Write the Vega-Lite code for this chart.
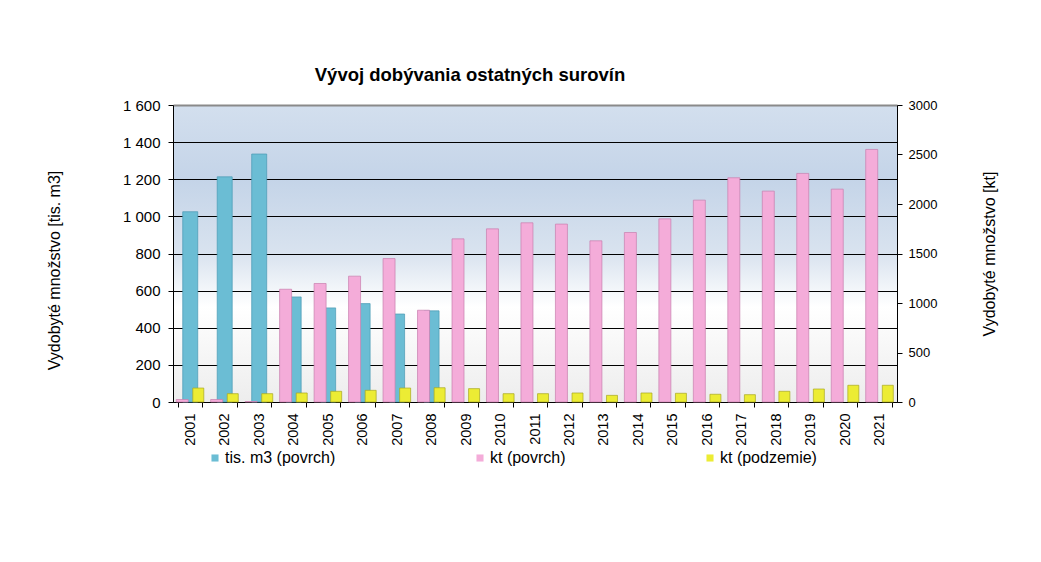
{
  "$schema": "https://vega.github.io/schema/vega-lite/v6.json",
  "width": 724,
  "height": 297,
  "autosize": "none",
  "padding": {"left": 173, "top": 105, "right": 144, "bottom": 160},
  "background": "white",
  "title": {
    "text": "Vývoj dobývania ostatných surovín",
    "font": "Liberation Sans",
    "fontSize": 18.5,
    "fontWeight": "bold",
    "color": "#000000",
    "anchor": "middle",
    "dx": -65,
    "offset": 14
  },
  "config": {
    "locale": {"number": {"decimal": ",", "thousands": " ", "grouping": [3], "currency": ["", ""]}},
    "font": "Liberation Sans",
    "view": {
      "stroke": null,
      "fill": {
        "gradient": "linear",
        "x1": 0, "y1": 0, "x2": 0, "y2": 1,
        "stops": [
          {"offset": 0, "color": "#d3dfee"},
          {"offset": 0.25, "color": "#c4d4e8"},
          {"offset": 0.5, "color": "#d9e3ef"},
          {"offset": 0.68, "color": "#ffffff"},
          {"offset": 0.82, "color": "#f7f7f7"},
          {"offset": 1, "color": "#ededed"}
        ]
      }
    },
    "axis": {
      "labelFont": "Liberation Sans",
      "titleFont": "Liberation Sans",
      "labelColor": "#000000",
      "titleColor": "#000000",
      "domainColor": "#000000",
      "tickColor": "#000000",
      "titleFontWeight": "normal"
    }
  },
  "data": {
    "values": [
      {"year": "2001", "series": "tis. m3 (povrch)", "value": 1025},
      {"year": "2002", "series": "tis. m3 (povrch)", "value": 1213},
      {"year": "2003", "series": "tis. m3 (povrch)", "value": 1336},
      {"year": "2004", "series": "tis. m3 (povrch)", "value": 566},
      {"year": "2005", "series": "tis. m3 (povrch)", "value": 507},
      {"year": "2006", "series": "tis. m3 (povrch)", "value": 530},
      {"year": "2007", "series": "tis. m3 (povrch)", "value": 474},
      {"year": "2008", "series": "tis. m3 (povrch)", "value": 491},
      {"year": "2001", "series": "kt (povrch)", "value": 25},
      {"year": "2002", "series": "kt (povrch)", "value": 25},
      {"year": "2003", "series": "kt (povrch)", "value": 5},
      {"year": "2004", "series": "kt (povrch)", "value": 1139},
      {"year": "2005", "series": "kt (povrch)", "value": 1197},
      {"year": "2006", "series": "kt (povrch)", "value": 1271},
      {"year": "2007", "series": "kt (povrch)", "value": 1449},
      {"year": "2008", "series": "kt (povrch)", "value": 927},
      {"year": "2009", "series": "kt (povrch)", "value": 1648},
      {"year": "2010", "series": "kt (povrch)", "value": 1749},
      {"year": "2011", "series": "kt (povrch)", "value": 1810},
      {"year": "2012", "series": "kt (povrch)", "value": 1797},
      {"year": "2013", "series": "kt (povrch)", "value": 1628},
      {"year": "2014", "series": "kt (povrch)", "value": 1712},
      {"year": "2015", "series": "kt (povrch)", "value": 1850},
      {"year": "2016", "series": "kt (povrch)", "value": 2039},
      {"year": "2017", "series": "kt (povrch)", "value": 2265},
      {"year": "2018", "series": "kt (povrch)", "value": 2130},
      {"year": "2019", "series": "kt (povrch)", "value": 2309},
      {"year": "2020", "series": "kt (povrch)", "value": 2150},
      {"year": "2021", "series": "kt (povrch)", "value": 2551},
      {"year": "2001", "series": "kt (podzemie)", "value": 141},
      {"year": "2002", "series": "kt (podzemie)", "value": 84},
      {"year": "2003", "series": "kt (podzemie)", "value": 84},
      {"year": "2004", "series": "kt (podzemie)", "value": 91},
      {"year": "2005", "series": "kt (podzemie)", "value": 108},
      {"year": "2006", "series": "kt (podzemie)", "value": 118},
      {"year": "2007", "series": "kt (podzemie)", "value": 141},
      {"year": "2008", "series": "kt (podzemie)", "value": 144},
      {"year": "2009", "series": "kt (podzemie)", "value": 135},
      {"year": "2010", "series": "kt (podzemie)", "value": 84},
      {"year": "2011", "series": "kt (podzemie)", "value": 84},
      {"year": "2012", "series": "kt (podzemie)", "value": 91},
      {"year": "2013", "series": "kt (podzemie)", "value": 67},
      {"year": "2014", "series": "kt (podzemie)", "value": 91},
      {"year": "2015", "series": "kt (podzemie)", "value": 88},
      {"year": "2016", "series": "kt (podzemie)", "value": 78},
      {"year": "2017", "series": "kt (podzemie)", "value": 74},
      {"year": "2018", "series": "kt (podzemie)", "value": 108},
      {"year": "2019", "series": "kt (podzemie)", "value": 131},
      {"year": "2020", "series": "kt (podzemie)", "value": 169},
      {"year": "2021", "series": "kt (podzemie)", "value": 169}
    ]
  },
  "encoding": {
    "x": {
      "field": "year",
      "type": "ordinal",
      "scale": {"paddingInner": 0.3, "paddingOuter": 0.15},
      "axis": {
        "title": null,
        "labelAngle": -90,
        "labelFontSize": 14.5,
        "labelPadding": 6,
        "tickBand": "extent",
        "tickSize": 5,
        "domainColor": "#000000"
      }
    },
    "xOffset": {
      "field": "series",
      "type": "nominal",
      "scale": {"domain": ["kt (povrch)", "tis. m3 (povrch)", "kt (podzemie)"], "paddingInner": 0, "paddingOuter": 0}
    },
    "color": {
      "field": "series",
      "type": "nominal",
      "scale": {
        "domain": ["tis. m3 (povrch)", "kt (povrch)", "kt (podzemie)"],
        "range": ["#6bbdd4", "#f4acd9", "#ecec34"]
      },
      "legend": {
        "title": null,
        "orient": "none",
        "legendX": 34,
        "legendY": 345,
        "direction": "horizontal",
        "columns": 3,
        "gridAlign": "none",
        "columnPadding": 136,
        "symbolType": "square",
        "symbolSize": 50,
        "symbolStrokeWidth": 0,
        "symbolOffset": 0,
        "labelOffset": 2,
        "labelFont": "Liberation Sans",
        "labelFontSize": 16,
        "labelColor": "#000000",
        "labelLimit": 300
      }
    }
  },
  "layer": [
    {
      "transform": [{"filter": "datum.series === 'tis. m3 (povrch)'"}],
      "mark": {"type": "bar", "width": 15, "stroke": "#4a9ab3", "strokeWidth": 1, "strokeOpacity": 0.7},
      "encoding": {
        "y": {
          "field": "value",
          "type": "quantitative",
          "scale": {"domain": [0, 1600], "nice": false},
          "axis": {
            "orient": "left",
            "title": "Vydobyté množstvo [tis. m3]",
            "titleFontSize": 16,
            "titlePadding": 60,
            "titleY": 165,
            "values": [0, 200, 400, 600, 800, 1000, 1200, 1400, 1600],
            "format": ",d",
            "labelFontSize": 15,
            "grid": true,
            "gridColor": {"condition": {"test": "datum.value === 1600", "value": "#8a8a8a"}, "value": "#000000"},
            "gridWidth": {"condition": {"test": "datum.value === 1600", "value": 2}, "value": 1},
            "tickSize": 5,
            "labelPadding": 8
          }
        }
      }
    },
    {
      "encoding": {
        "y": {
          "field": "value",
          "type": "quantitative",
          "scale": {"domain": [0, 3000], "nice": false},
          "axis": {
            "orient": "right",
            "title": "Vydobyté množstvo [kt]",
            "titleFontSize": 16,
            "titleAngle": 270,
            "titlePadding": 61,
            "values": [0, 500, 1000, 1500, 2000, 2500, 3000],
            "format": "d",
            "labelFontSize": 13,
            "grid": false,
            "tickSize": 5,
            "labelPadding": 6
          }
        }
      },
      "layer": [
        {
          "transform": [{"filter": "datum.series === 'kt (povrch)'"}],
          "mark": {"type": "bar", "width": 12, "stroke": "#c77fae", "strokeWidth": 1, "strokeOpacity": 0.7}
        },
        {
          "transform": [{"filter": "datum.series === 'kt (podzemie)'"}],
          "mark": {"type": "bar", "width": 11, "stroke": "#a8a820", "strokeWidth": 1, "strokeOpacity": 0.7}
        }
      ]
    }
  ],
  "resolve": {"scale": {"y": "independent"}}
}
